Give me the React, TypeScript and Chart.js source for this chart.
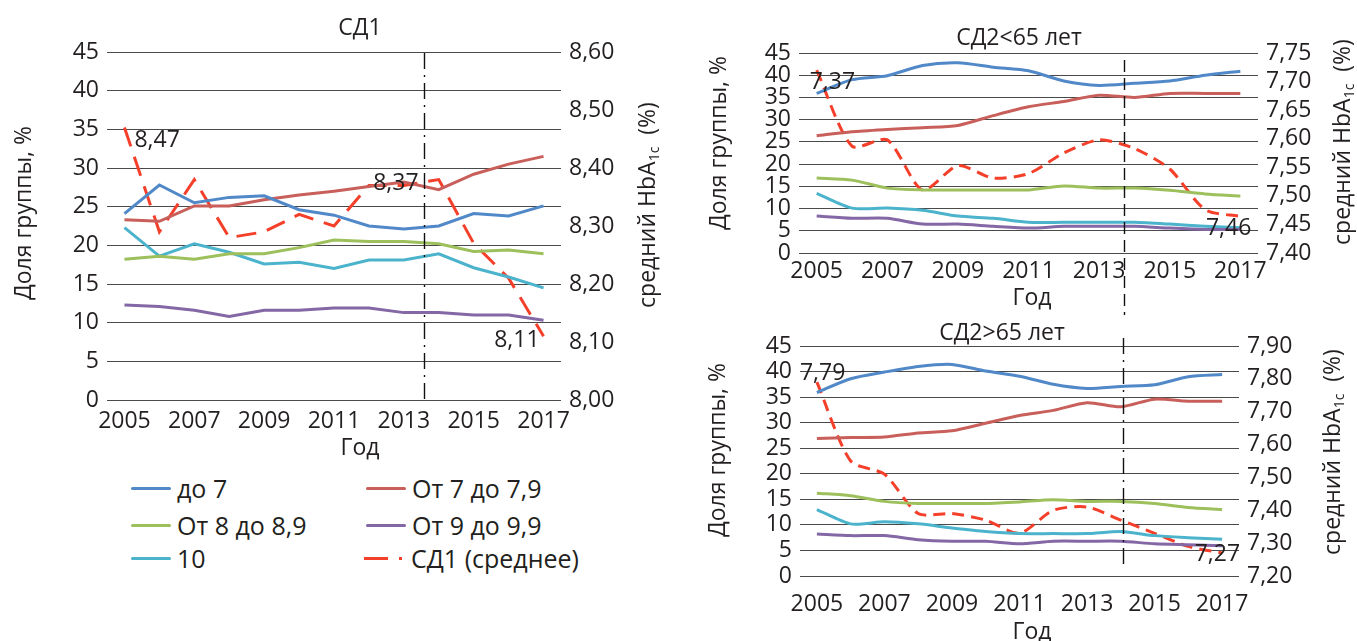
import React, { useEffect, useRef } from 'react';
import { Chart, registerables } from 'chart.js';

Chart.register(...registerables);

const FONT = '"Open Sans", "Noto Sans", "DejaVu Sans", sans-serif';
const TEXT = '#231f20';
const GRID = '#4a4a4a';

// ---------- DATA ----------
const years = ['2005', '2006', '2007', '2008', '2009', '2010', '2011', '2012', '2013', '2014', '2015', '2016', '2017'];
const seriesNames = ['до 7', 'От 7 до 7,9', 'От 8 до 8,9', 'От 9 до 9,9', '10'];
const meanName = 'СД1 (среднее)';
const seriesColors = ['#5088c8', '#c85f5a', '#9dbf5c', '#8468a6', '#4bb3cc'];
const meanColor = '#f4402a';

const shareMin = 0;
const shareMax = 45;
const shareStep = 5;

// СД1
const sd1UpTo7 = [24.1, 27.8, 25.5, 26.2, 26.4, 24.6, 23.9, 22.5, 22.1, 22.5, 24.1, 23.8, 25.1];
const sd1From7 = [23.3, 23.1, 25.1, 25.1, 25.9, 26.5, 27.0, 27.6, 28.2, 27.2, 29.2, 30.5, 31.5];
const sd1From8 = [18.2, 18.6, 18.2, 18.9, 18.9, 19.7, 20.7, 20.5, 20.5, 20.2, 19.2, 19.4, 18.9];
const sd1From9 = [12.3, 12.1, 11.6, 10.8, 11.6, 11.6, 11.9, 11.9, 11.3, 11.3, 11.0, 11.0, 10.3];
const sd1Over10 = [22.3, 18.6, 20.2, 19.1, 17.6, 17.8, 17.0, 18.1, 18.1, 18.9, 17.1, 15.9, 14.5];
const sd1Mean = [8.47, 8.29, 8.38, 8.28, 8.29, 8.32, 8.30, 8.37, 8.37, 8.38, 8.27, 8.21, 8.11];
const sd1MeanLabels = ['8,47', null, null, null, null, null, null, null, '8,37', null, null, null, '8,11'];
const sd1HbaMin = 8.0;
const sd1HbaMax = 8.6;
const sd1HbaStep = 0.1;

// СД2 < 65 лет
const sd2yUpTo7 = [35.9, 39.0, 39.9, 42.2, 42.8, 41.8, 41.0, 38.7, 37.7, 38.2, 38.7, 40.0, 40.9];
const sd2yFrom7 = [26.4, 27.3, 27.8, 28.2, 28.7, 30.9, 32.9, 34.1, 35.5, 35.0, 35.9, 35.9, 35.9];
const sd2yFrom8 = [16.9, 16.4, 14.6, 14.2, 14.2, 14.2, 14.2, 15.1, 14.6, 14.6, 14.1, 13.3, 12.8];
const sd2yFrom9 = [8.3, 7.8, 7.8, 6.5, 6.5, 6.0, 5.6, 6.0, 6.0, 6.0, 5.6, 5.3, 5.3];
const sd2yOver10 = [13.4, 10.1, 10.1, 9.6, 8.3, 7.8, 6.9, 6.9, 6.9, 6.9, 6.5, 6.0, 5.7];
const sd2yMean = [7.72, 7.587, 7.598, 7.51, 7.553, 7.531, 7.539, 7.575, 7.598, 7.583, 7.547, 7.476, 7.464];
const sd2yMeanLabels = ['7,37', null, null, null, null, null, null, null, null, null, null, null, '7,46'];
const sd2yHbaMin = 7.4;
const sd2yHbaMax = 7.75;
const sd2yHbaStep = 0.05;

// СД2 > 65 лет
const sd2oUpTo7 = [35.9, 38.6, 39.9, 41.0, 41.4, 40.1, 39.1, 37.5, 36.7, 37.1, 37.4, 39.0, 39.4];
const sd2oFrom7 = [26.9, 27.1, 27.2, 28.0, 28.4, 29.9, 31.4, 32.4, 33.9, 33.1, 34.6, 34.2, 34.2];
const sd2oFrom8 = [16.2, 15.7, 14.6, 14.2, 14.2, 14.2, 14.5, 14.9, 14.6, 14.6, 14.2, 13.4, 13.0];
const sd2oFrom9 = [8.2, 7.9, 7.9, 7.1, 6.8, 6.8, 6.3, 6.8, 6.8, 6.8, 6.3, 6.1, 5.9];
const sd2oOver10 = [13.0, 10.2, 10.6, 10.2, 9.4, 8.7, 8.3, 8.3, 8.3, 8.7, 7.9, 7.5, 7.2];
const sd2oMean = [7.79, 7.55, 7.51, 7.39, 7.39, 7.37, 7.33, 7.40, 7.41, 7.37, 7.33, 7.29, 7.27];
const sd2oMeanLabels = ['7,79', null, null, null, null, null, null, null, null, null, null, null, '7,27'];
const sd2oHbaMin = 7.2;
const sd2oHbaMax = 7.9;
const sd2oHbaStep = 0.1;

const panelTitles = ['СД1', 'СД2<65 лет', 'СД2>65 лет'];
const yTitle = 'Доля группы, %';
const xTitle = 'Год';

// ---------- LAYOUT / STYLE ----------
type Placement = { dx: number; dy: number; align: CanvasTextAlign };
type PanelSpec = {
  left: number; top: number; width: number; height: number;
  plot: { left: number; right: number; top: number; bottom: number };
  series: number[][]; mean: number[]; meanLabels: (string | null)[];
  placements: Record<number, Placement>;
  hbaMin: number; hbaMax: number; hbaStep: number;
  title: string; titleXY: [number, number]; yTitleXY: [number, number];
  rTitleXY: [number, number]; xTitleXY: [number, number];
  xTickPad: number; meanDash: number[]; tension: number;
  divider: { index: number; y0: number; y1: number; dash: number[] };
};

const panels: PanelSpec[] = [
  {
    left: 0, top: 0, width: 690, height: 470,
    plot: { left: 107, right: 561, top: 52, bottom: 400 },
    series: [sd1UpTo7, sd1From7, sd1From8, sd1From9, sd1Over10],
    mean: sd1Mean, meanLabels: sd1MeanLabels,
    placements: { 0: { dx: 10, dy: 13, align: 'left' }, 8: { dx: -8, dy: -2, align: 'center' }, 12: { dx: -4, dy: 4, align: 'right' } },
    hbaMin: sd1HbaMin, hbaMax: sd1HbaMax, hbaStep: sd1HbaStep,
    title: panelTitles[0], titleXY: [360, 28], yTitleXY: [24, 213], rTitleXY: [648, 205], xTitleXY: [360, 448],
    xTickPad: 8, meanDash: [20, 11], tension: 0,
    divider: { index: 8.59, y0: 53, y1: 405, dash: [16, 6, 2, 6] },
  },
  {
    left: 690, top: 0, width: 667, height: 320,
    plot: { left: 109, right: 568, top: 53, bottom: 253 },
    series: [sd2yUpTo7, sd2yFrom7, sd2yFrom8, sd2yFrom9, sd2yOver10],
    mean: sd2yMean, meanLabels: sd2yMeanLabels,
    placements: { 0: { dx: -7, dy: 12, align: 'left' }, 12: { dx: 11, dy: 12, align: 'right' } },
    hbaMin: sd2yHbaMin, hbaMax: sd2yHbaMax, hbaStep: sd2yHbaStep,
    title: panelTitles[1], titleXY: [329, 38], yTitleXY: [29, 143], rTitleXY: [653, 142], xTitleXY: [342, 298],
    xTickPad: 5, meanDash: [12, 7], tension: 0.25,
    divider: { index: 8.71, y0: 60, y1: 315, dash: [12, 6] },
  },
  {
    left: 690, top: 320, width: 667, height: 321,
    plot: { left: 110, right: 549, top: 26, bottom: 256 },
    series: [sd2oUpTo7, sd2oFrom7, sd2oFrom8, sd2oFrom9, sd2oOver10],
    mean: sd2oMean, meanLabels: sd2oMeanLabels,
    placements: { 0: { dx: -17, dy: -9, align: 'left' }, 12: { dx: 18, dy: 1, align: 'right' } },
    hbaMin: sd2oHbaMin, hbaMax: sd2oHbaMax, hbaStep: sd2oHbaStep,
    title: panelTitles[2], titleXY: [312, 13], yTitleXY: [28, 130], rTitleXY: [643, 132], xTitleXY: [342, 312],
    xTickPad: 15, meanDash: [12, 7], tension: 0.25,
    divider: { index: 9.07, y0: 18, y1: 250, dash: [16, 6, 2, 6] },
  },
];

const FS = 23;

function drawRotated(ctx: CanvasRenderingContext2D, x: number, y: number, parts: { t: string; size: number; off: number }[]) {
  ctx.save();
  ctx.translate(x, y);
  ctx.rotate(-Math.PI / 2);
  ctx.fillStyle = TEXT;
  ctx.textBaseline = 'middle';
  ctx.textAlign = 'left';
  const widths = parts.map((p) => {
    ctx.font = `${p.size}px ${FONT}`;
    return ctx.measureText(p.t).width;
  });
  let cur = -widths.reduce((a, b) => a + b, 0) / 2;
  parts.forEach((p, i) => {
    ctx.font = `${p.size}px ${FONT}`;
    ctx.fillText(p.t, cur, p.off);
    cur += widths[i];
  });
  ctx.restore();
}

function Panel({ spec }: { spec: PanelSpec }) {
  const ref = useRef<HTMLCanvasElement>(null);
  useEffect(() => {
    const s = spec;
    const font = { family: FONT, size: FS };
    const overlay = {
      id: 'overlay',
      afterDatasetsDraw(chart: any) {
        const ctx: CanvasRenderingContext2D = chart.ctx;
        const xs = chart.scales.x;
        const dx = Math.round(xs.getPixelForValue(s.divider.index)) + 0.5;
        ctx.save();
        ctx.strokeStyle = '#111';
        ctx.lineWidth = 1.4;
        ctx.setLineDash(s.divider.dash);
        ctx.beginPath();
        ctx.moveTo(dx, s.divider.y0);
        ctx.lineTo(dx, s.divider.y1);
        ctx.stroke();
        ctx.restore();

        const meta = chart.getDatasetMeta(s.series.length);
        ctx.save();
        ctx.font = `${FS}px ${FONT}`;
        ctx.fillStyle = TEXT;
        ctx.textBaseline = 'middle';
        s.meanLabels.forEach((t, i) => {
          if (!t) return;
          const p = meta.data[i];
          const pl = s.placements[i];
          ctx.textAlign = pl.align;
          ctx.fillText(t, p.x + pl.dx, p.y + pl.dy);
        });
        ctx.restore();
      },
      afterDraw(chart: any) {
        const ctx: CanvasRenderingContext2D = chart.ctx;
        ctx.save();
        ctx.fillStyle = TEXT;
        ctx.font = `${FS}px ${FONT}`;
        ctx.textAlign = 'center';
        ctx.textBaseline = 'middle';
        ctx.fillText(s.title, s.titleXY[0], s.titleXY[1]);
        ctx.fillText(xTitle, s.xTitleXY[0], s.xTitleXY[1]);
        ctx.restore();
        drawRotated(ctx, s.yTitleXY[0], s.yTitleXY[1], [{ t: yTitle, size: FS, off: 0 }]);
        drawRotated(ctx, s.rTitleXY[0], s.rTitleXY[1], [
          { t: 'средний HbA', size: FS, off: 0 },
          { t: '1c', size: 14, off: 7 },
          { t: '  (%)', size: FS, off: 0 },
        ]);
      },
    };

    const datasets: any[] = s.series.map((d, i) => ({
      label: seriesNames[i],
      data: d,
      borderColor: seriesColors[i],
      backgroundColor: seriesColors[i],
      borderWidth: 3,
      pointRadius: 0,
      tension: s.tension,
      yAxisID: 'y',
    }));
    datasets.push({
      label: meanName,
      data: s.mean,
      borderColor: meanColor,
      backgroundColor: meanColor,
      borderWidth: 3,
      borderDash: s.meanDash,
      pointRadius: 0,
      tension: s.tension,
      yAxisID: 'y1',
    });

    const chart = new Chart(ref.current as HTMLCanvasElement, {
      type: 'line',
      data: { labels: years, datasets },
      options: {
        animation: false,
        responsive: false,
        maintainAspectRatio: false,
        layout: { padding: { top: s.plot.top, left: 0, right: 0, bottom: 0 } },
        plugins: { legend: { display: false }, tooltip: { enabled: false }, title: { display: false } },
        scales: {
          x: {
            type: 'category',
            offset: true,
            grid: { display: false, drawTicks: false },
            border: { display: false },
            ticks: {
              autoSkip: false,
              maxRotation: 0,
              minRotation: 0,
              padding: s.xTickPad,
              color: TEXT,
              font,
              callback: (v: any, i: number) => (i % 2 === 0 ? years[i] : ''),
            },
            afterFit: (sc: any) => { sc.height = s.height - s.plot.bottom; },
          },
          y: {
            position: 'left',
            min: shareMin,
            max: shareMax,
            ticks: { stepSize: shareStep, padding: 8, color: TEXT, font, autoSkip: false },
            grid: { color: GRID, lineWidth: 1, drawTicks: false },
            border: { display: false },
            afterFit: (sc: any) => { sc.width = s.plot.left; },
          },
          y1: {
            position: 'right',
            min: s.hbaMin,
            max: s.hbaMax,
            ticks: {
              stepSize: s.hbaStep,
              padding: 8,
              color: TEXT,
              font,
              autoSkip: false,
              callback: (v: any) => Number(v).toFixed(2).replace('.', ','),
            },
            grid: { display: false, drawTicks: false },
            border: { display: false },
            afterFit: (sc: any) => { sc.width = s.width - s.plot.right; },
          },
        },
      } as any,
      plugins: [overlay],
    });
    return () => chart.destroy();
  }, [spec]);
  return (
    <canvas
      ref={ref}
      width={spec.width}
      height={spec.height}
      style={{ position: 'absolute', left: spec.left, top: spec.top, width: spec.width, height: spec.height }}
    />
  );
}

function Legend() {
  const rows = [488, 525, 558];
  const cols = [131, 366];
  const items = [0, 1, 2, 3, 4].map((i) => ({ i, x: cols[i % 2], y: rows[Math.floor(i / 2)] }));
  const text = (t: string, x: number, y: number, key: string) => (
    <div key={key} style={{ position: 'absolute', left: x, top: y - 17, height: 34, lineHeight: '34px', fontSize: 25, color: TEXT, whiteSpace: 'nowrap', fontFamily: FONT }}>{t}</div>
  );
  return (
    <>
      {items.map(({ i, x, y }) => (
        <React.Fragment key={i}>
          <div style={{ position: 'absolute', left: x, top: y - 1.5, width: 40, height: 3, background: seriesColors[i], borderRadius: 1.5 }} />
          {text(seriesNames[i], x + 46, y, 't' + i)}
        </React.Fragment>
      ))}
      <div style={{ position: 'absolute', left: 364, top: rows[2] - 1.5, width: 24, height: 3, background: meanColor }} />
      <div style={{ position: 'absolute', left: 399, top: rows[2] - 1.5, width: 3, height: 3, background: meanColor }} />
      {text(meanName, 411, rows[2], 'mean')}
    </>
  );
}

export default function App() {
  return (
    <div style={{ position: 'fixed', left: 0, top: 0, width: 1357, height: 641, background: '#fff', overflow: 'hidden', fontFamily: FONT }}>
      {panels.map((p, i) => (
        <Panel key={i} spec={p} />
      ))}
      <Legend />
    </div>
  );
}
